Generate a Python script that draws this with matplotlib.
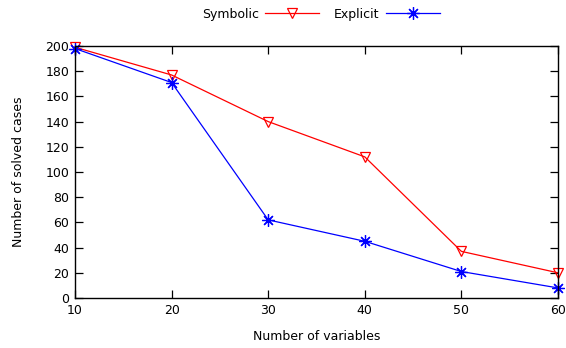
import numpy as np
import matplotlib.pyplot as plt

# data
variables = [10, 20, 30, 40, 50, 60]
symbolic = [199, 177, 140, 112, 37, 20]
explicit = [198, 171, 62, 45, 21, 8]

plt.rcParams['font.family'] = 'DejaVu Sans'
plt.rcParams['font.size'] = 9

fig = plt.figure(figsize=(5.66, 3.48), dpi=100)
ax = fig.add_axes([75/566, 50/348, 483/566, 252/348])

ax.plot(variables, symbolic, color='red', lw=0.9, marker='v', markersize=7,
        markerfacecolor='none', markeredgecolor='red', markeredgewidth=0.9,
        label='Symbolic', clip_on=False)
ax.plot(variables, explicit, color='blue', lw=0.9, marker=(8, 2, 0), markersize=9,
        markeredgecolor='blue', markeredgewidth=0.9,
        label='Explicit', clip_on=False)

ax.set_xlim(10, 60)
ax.set_ylim(0, 200)
ax.set_xticks(variables)
ax.set_yticks(np.arange(0, 201, 20))
ax.tick_params(direction='in', top=True, right=True, length=6, width=0.9, colors='black', pad=4)
for s in ax.spines.values():
    s.set_linewidth(1.0)

ax.set_xlabel('Number of variables', labelpad=10)
ax.set_ylabel('Number of solved cases', labelpad=15)

fig.legend(loc='upper center', bbox_to_anchor=(0.567, 1.01), ncol=2, frameon=False,
           markerfirst=False, handlelength=4.3, columnspacing=1.2, handletextpad=0.5)

fig.savefig('out.png', dpi=100)
